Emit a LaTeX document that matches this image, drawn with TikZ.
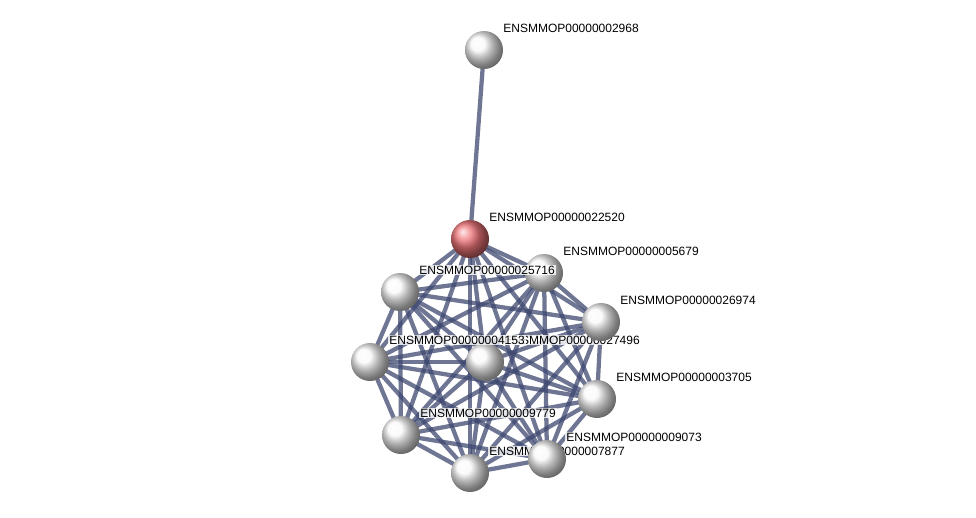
\documentclass[tikz,border=0pt]{standalone}
\usepackage{fontspec}
\setmainfont{Liberation Sans}
\usepackage{xcolor}
\usepackage{tikz}
\usetikzlibrary{backgrounds}
\definecolor{edgeblue}{RGB}{62,72,112}
\definecolor{hubred}{RGB}{240,118,122}
\tikzset{
  protein/.style={circle, inner sep=0pt, minimum size=28.5pt, ball color=gray!5},
  hub/.style={protein, ball color=hubred},
  lbl/.style={anchor=base west, inner sep=0.8pt, fill=white, fill opacity=0.8, text opacity=1, font=\fontsize{9}{10}\selectfont},
  edge/.style={draw=edgeblue, line width=3.2pt, opacity=0.75}
}
\begin{document}
\begin{tikzpicture}[x=0.75pt, y=-0.75pt]
\useasboundingbox (0,0) rectangle (976,518);
% proteins with their names
\node[protein] (n2968) at (484,50) {};
\node[lbl] (l2968) at ([shift={(18,-18)}]n2968.center) {ENSMMOP00000002968};
\node[hub] (n22520) at (470,239) {};
\node[lbl] (l22520) at ([shift={(18,-18)}]n22520.center) {ENSMMOP00000022520};
\node[protein] (n5679) at (544,273) {};
\node[lbl] (l5679) at ([shift={(18,-18)}]n5679.center) {ENSMMOP00000005679};
\node[protein] (n25716) at (400,292) {};
\node[lbl] (l25716) at ([shift={(18,-18)}]n25716.center) {ENSMMOP00000025716};
\node[protein] (n27496) at (485,362) {};
\node[lbl] (l27496) at ([shift={(18,-18)}]n27496.center) {ENSMMOP00000027496};
\node[protein] (n4153) at (370,362) {};
\node[lbl] (l4153) at ([shift={(18,-18)}]n4153.center) {ENSMMOP00000004153};
\node[protein] (n26974) at (601,322) {};
\node[lbl] (l26974) at ([shift={(18,-18)}]n26974.center) {ENSMMOP00000026974};
\node[protein] (n3705) at (597,399) {};
\node[lbl] (l3705) at ([shift={(18,-18)}]n3705.center) {ENSMMOP00000003705};
\node[protein] (n9779) at (401,435) {};
\node[lbl] (l9779) at ([shift={(18,-18)}]n9779.center) {ENSMMOP00000009779};
\node[protein] (n7877) at (470,473) {};
\node[lbl] (l7877) at ([shift={(18,-18)}]n7877.center) {ENSMMOP00000007877};
\node[protein] (n9073) at (547,459) {};
\node[lbl] (l9073) at ([shift={(18,-18)}]n9073.center) {ENSMMOP00000009073};
% interactions
\def\cluster{n22520,n5679,n25716,n26974,n4153,n27496,n3705,n9779,n9073,n7877}
\begin{pgfonlayer}{background}
\foreach \a [count=\i] in \cluster {
  \foreach \b [count=\j] in \cluster {
    \ifnum\j>\i \draw[edge] (\a.center) -- (\b.center); \fi
  }
}
\draw[edge] (n2968.center) -- (n22520.center);
\end{pgfonlayer}
\end{tikzpicture}
\end{document}
